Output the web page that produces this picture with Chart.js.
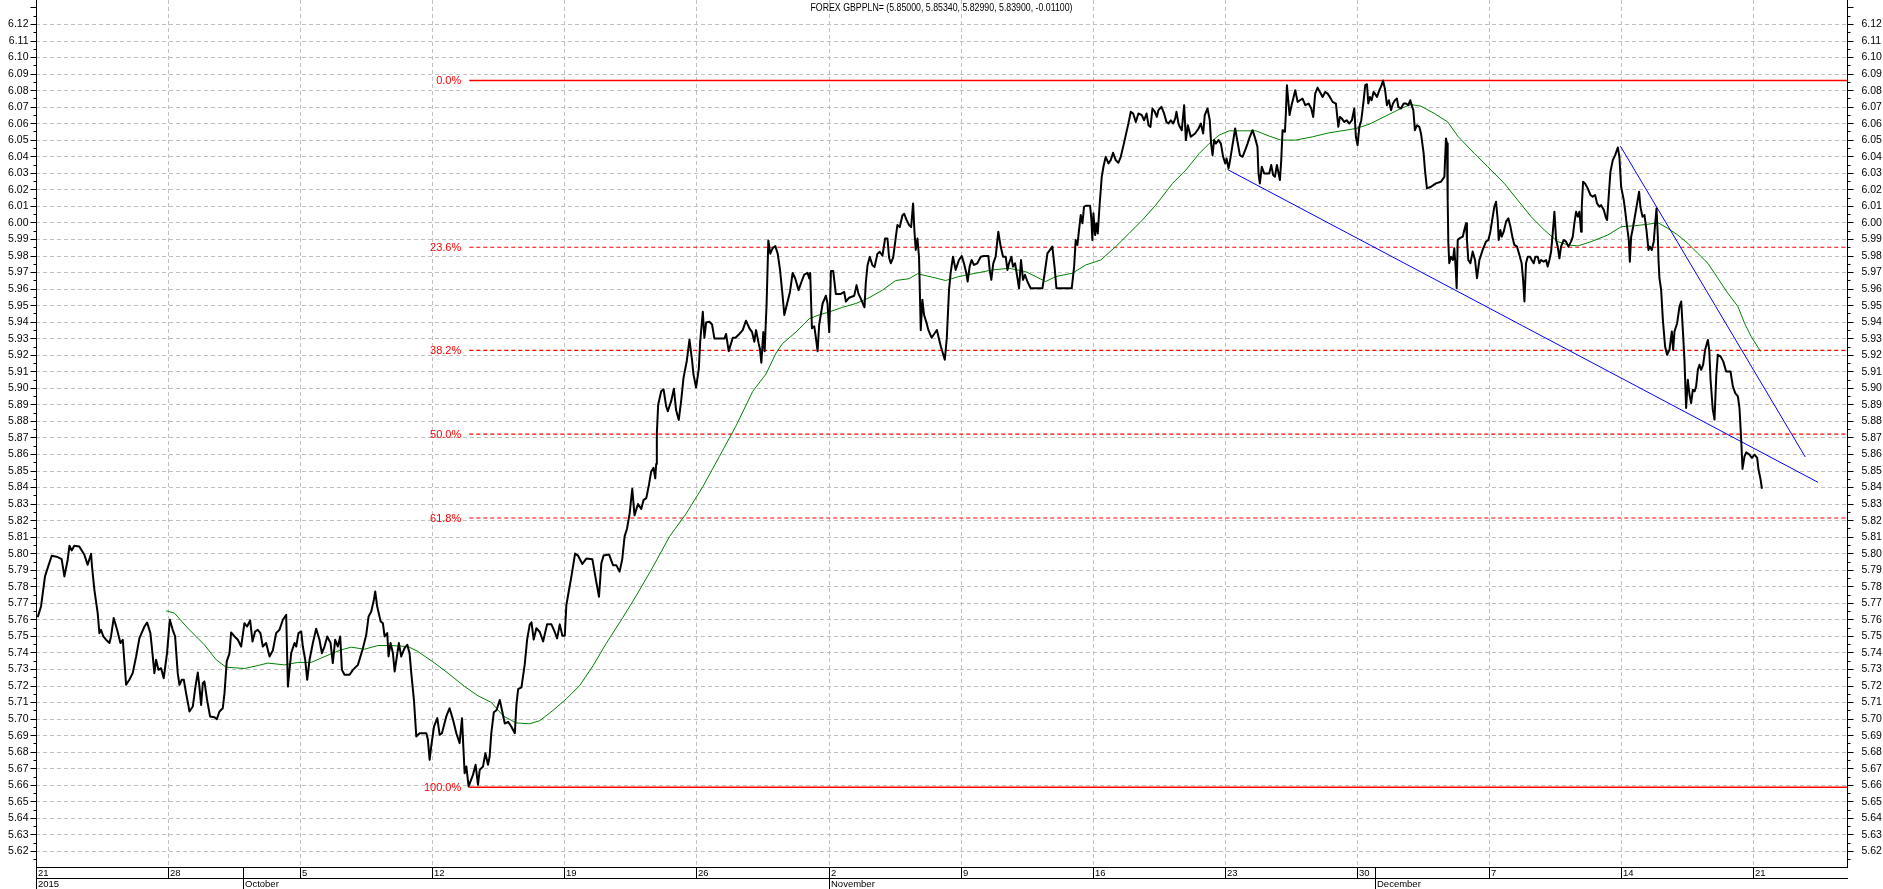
<!DOCTYPE html>
<html><head><meta charset="utf-8">
<script src="https://cdn.jsdelivr.net/npm/chart.js@4.4.1/dist/chart.umd.min.js"></script>
<style>html,body{margin:0;padding:0;background:#fff;overflow:hidden}#wrap{position:relative;width:1883px;height:889px}</style>
</head><body><div id="wrap"><canvas id="c"></canvas></div>
<script>
const titleText = "FOREX GBPPLN= (5.85000, 5.85340, 5.82990, 5.83900, -0.01100)";
const weekTickLabels = ["21","28","5","12","19","26","2","9","16","23","30","7","14","21"];
const monthLabels = ["2015","October","November","December"];
const monthStartWeeks = [0, 1.567, 6, 10.136];
const yTickLabels = ["5.62","5.63","5.64","5.65","5.66","5.67","5.68","5.69","5.70","5.71","5.72","5.73","5.74","5.75","5.76","5.77","5.78","5.79","5.80","5.81","5.82","5.83","5.84","5.85","5.86","5.87","5.88","5.89","5.90","5.91","5.92","5.93","5.94","5.95","5.96","5.97","5.98","5.99","6.00","6.01","6.02","6.03","6.04","6.05","6.06","6.07","6.08","6.09","6.10","6.11","6.12"];
const fibLabels = ["0.0%","23.6%","38.2%","50.0%","61.8%","100.0%"];
const fibValues = [6.0858, 5.9850, 5.9226, 5.8720, 5.8213, 5.6585];
const fibStartWeek = 3.28;
const trendA = [[9.020, 6.0320], [13.490, 5.8429]];
const trendB = [[11.995, 6.0461], [13.394, 5.8582]];
// price: [weeks since 21 Sep 2015, GBPPLN]
const pricePoints = [
[0.013,5.7614],[0.038,5.7678],[0.068,5.7860],[0.088,5.7910],[0.119,5.7985],[0.164,5.7977],[0.194,5.7965],[0.215,5.7860],[0.240,5.7961],[0.253,5.8045],[0.270,5.8017],[0.290,5.8045],[0.328,5.8041],[0.366,5.7991],[0.391,5.7930],[0.417,5.7997],[0.424,5.7920],[0.442,5.7779],[0.467,5.7638],[0.480,5.7517],[0.492,5.7537],[0.510,5.7497],[0.530,5.7477],[0.556,5.7457],[0.568,5.7497],[0.588,5.7608],[0.614,5.7537],[0.639,5.7457],[0.657,5.7477],[0.682,5.7205],[0.707,5.7235],[0.732,5.7275],[0.758,5.7376],[0.783,5.7487],[0.821,5.7557],[0.841,5.7581],[0.866,5.7517],[0.884,5.7376],[0.896,5.7275],[0.909,5.7356],[0.927,5.7295],[0.947,5.7305],[0.967,5.7245],[0.992,5.7396],[1.013,5.7598],[1.035,5.7537],[1.053,5.7497],[1.073,5.7275],[1.086,5.7205],[1.104,5.7235],[1.119,5.7235],[1.136,5.7154],[1.162,5.7043],[1.187,5.7073],[1.207,5.7194],[1.225,5.7279],[1.237,5.7194],[1.250,5.7083],[1.263,5.7215],[1.275,5.7225],[1.295,5.7114],[1.318,5.7013],[1.351,5.7009],[1.369,5.6997],[1.389,5.7043],[1.414,5.7063],[1.427,5.7154],[1.444,5.7346],[1.465,5.7396],[1.477,5.7521],[1.503,5.7497],[1.528,5.7477],[1.553,5.7436],[1.578,5.7577],[1.598,5.7557],[1.621,5.7594],[1.639,5.7467],[1.659,5.7527],[1.679,5.7537],[1.699,5.7517],[1.717,5.7436],[1.742,5.7457],[1.768,5.7376],[1.793,5.7412],[1.818,5.7517],[1.843,5.7537],[1.869,5.7598],[1.894,5.7628],[1.907,5.7194],[1.919,5.7295],[1.932,5.7396],[1.957,5.7457],[1.970,5.7436],[1.987,5.7517],[2.008,5.7527],[2.020,5.7436],[2.038,5.7356],[2.053,5.7235],[2.071,5.7356],[2.096,5.7457],[2.121,5.7543],[2.146,5.7477],[2.164,5.7396],[2.184,5.7436],[2.205,5.7497],[2.230,5.7457],[2.247,5.7336],[2.265,5.7477],[2.285,5.7436],[2.303,5.7497],[2.316,5.7295],[2.336,5.7265],[2.374,5.7265],[2.399,5.7295],[2.437,5.7325],[2.475,5.7426],[2.500,5.7507],[2.518,5.7618],[2.538,5.7648],[2.558,5.7719],[2.568,5.7769],[2.583,5.7678],[2.609,5.7588],[2.626,5.7577],[2.639,5.7497],[2.659,5.7517],[2.669,5.7376],[2.684,5.7457],[2.702,5.7396],[2.715,5.7285],[2.732,5.7376],[2.747,5.7457],[2.765,5.7376],[2.790,5.7426],[2.811,5.7446],[2.828,5.7396],[2.841,5.7275],[2.861,5.7114],[2.879,5.6892],[2.904,5.6912],[2.955,5.6912],[2.967,5.6872],[2.980,5.6751],[2.992,5.6832],[3.013,5.6952],[3.038,5.7003],[3.056,5.6902],[3.073,5.6912],[3.106,5.7013],[3.131,5.7063],[3.157,5.6993],[3.182,5.6912],[3.207,5.6852],[3.225,5.7003],[3.235,5.6832],[3.245,5.6670],[3.258,5.6711],[3.275,5.6590],[3.308,5.6660],[3.328,5.6721],[3.346,5.6600],[3.359,5.6690],[3.384,5.6711],[3.402,5.6791],[3.422,5.6721],[3.434,5.6771],[3.447,5.6912],
[3.466,5.7039],[3.486,5.7051],[3.511,5.7113],[3.531,5.7039],[3.549,5.6970],[3.574,5.6981],[3.599,5.6951],[3.625,5.6912],[3.637,5.7085],[3.650,5.7178],[3.675,5.7189],[3.700,5.7328],[3.718,5.7478],[3.738,5.7570],[3.751,5.7582],[3.768,5.7478],[3.788,5.7547],[3.814,5.7524],[3.839,5.7467],[3.869,5.7570],[3.902,5.7570],[3.927,5.7524],[3.945,5.7485],[3.965,5.7570],[3.985,5.7501],[4.003,5.7501],[4.015,5.7686],[4.035,5.7778],[4.053,5.7859],[4.081,5.7998],[4.103,5.7986],[4.136,5.7935],[4.166,5.7968],[4.212,5.7963],[4.237,5.7848],[4.262,5.7737],[4.280,5.7940],[4.297,5.7986],[4.338,5.7993],[4.368,5.7928],[4.393,5.7928],[4.418,5.7889],[4.438,5.7963],[4.456,5.8102],[4.474,5.8148],[4.494,5.8240],[4.514,5.8390],[4.531,5.8229],[4.557,5.8298],[4.582,5.8268],[4.599,5.8321],[4.620,5.8333],[4.640,5.8413],[4.657,5.8494],[4.675,5.8517],[4.688,5.8453],[4.695,5.8540],[4.700,5.8725],[4.710,5.8898],[4.733,5.8979],[4.751,5.8991],[4.771,5.8887],[4.783,5.8859],[4.809,5.8921],[4.829,5.8995],[4.846,5.8864],[4.866,5.8806],[4.884,5.8921],[4.902,5.9060],[4.927,5.9164],[4.947,5.9291],[4.967,5.9164],[4.977,5.9083],[4.997,5.9002],[5.018,5.9118],[5.028,5.9279],[5.048,5.9460],[5.060,5.9303],[5.073,5.9395],[5.098,5.9400],[5.118,5.9383],[5.136,5.9298],[5.174,5.9298],[5.212,5.9298],[5.224,5.9326],[5.244,5.9222],[5.275,5.9303],[5.295,5.9303],[5.325,5.9326],[5.350,5.9349],[5.375,5.9406],[5.401,5.9360],[5.421,5.9337],[5.438,5.9279],[5.451,5.9349],[5.471,5.9268],[5.481,5.9233],[5.491,5.9152],[5.506,5.9337],[5.516,5.9222],[5.531,5.9510],[5.544,5.9891],[5.559,5.9811],[5.577,5.9845],[5.597,5.9857],[5.615,5.9811],[5.632,5.9718],[5.652,5.9557],[5.665,5.9441],[5.690,5.9522],[5.708,5.9580],[5.728,5.9695],[5.748,5.9661],[5.773,5.9591],[5.793,5.9637],[5.816,5.9684],[5.841,5.9695],[5.854,5.9661],[5.861,5.9695],[5.874,5.9360],[5.892,5.9372],[5.904,5.9303],[5.917,5.9222],[5.929,5.9383],[5.955,5.9510],[5.980,5.9557],[5.992,5.9510],[6.005,5.9337],[6.018,5.9707],[6.035,5.9707],[6.055,5.9568],[6.093,5.9568],[6.118,5.9580],[6.131,5.9522],[6.156,5.9545],[6.194,5.9557],[6.212,5.9621],[6.227,5.9568],[6.247,5.9533],[6.272,5.9487],[6.282,5.9637],[6.295,5.9741],[6.312,5.9792],[6.332,5.9741],[6.348,5.9730],[6.370,5.9811],[6.388,5.9822],[6.408,5.9799],[6.428,5.9903],[6.446,5.9903],[6.458,5.9788],[6.471,5.9753],[6.489,5.9788],[6.504,5.9880],[6.521,5.9984],[6.539,5.9972],[6.559,6.0042],[6.572,6.0053],[6.589,6.0018],[6.610,5.9984],[6.625,5.9972],[6.640,6.0115],[6.650,5.9949],[6.660,5.9834],[6.673,5.9903],[6.685,5.9788],[6.698,5.9349],[6.710,5.9533],[6.723,5.9441],[6.741,5.9395],[6.756,5.9349],
[6.780,5.9303],[6.820,5.9350],[6.850,5.9250],[6.880,5.9170],[6.895,5.9300],
[6.912,5.9592],[6.924,5.9693],[6.942,5.9793],[6.962,5.9713],[6.987,5.9773],[7.008,5.9797],[7.025,5.9753],[7.043,5.9693],[7.053,5.9643],[7.068,5.9733],[7.083,5.9773],[7.101,5.9743],[7.126,5.9753],[7.152,5.9793],[7.177,5.9797],[7.210,5.9797],[7.220,5.9713],[7.232,5.9653],[7.247,5.9753],[7.265,5.9793],[7.285,5.9944],[7.303,5.9854],[7.321,5.9793],[7.341,5.9793],[7.354,5.9713],[7.366,5.9753],[7.384,5.9793],[7.396,5.9733],[7.412,5.9753],[7.424,5.9693],[7.442,5.9602],[7.457,5.9773],[7.472,5.9653],[7.487,5.9683],[7.505,5.9643],[7.530,5.9602],[7.568,5.9602],[7.619,5.9602],[7.636,5.9693],[7.657,5.9813],[7.677,5.9834],[7.694,5.9854],[7.712,5.9723],[7.725,5.9602],[7.770,5.9602],[7.841,5.9602],[7.859,5.9733],[7.871,5.9894],[7.884,5.9864],[7.896,5.9954],[7.909,6.0045],[7.922,5.9995],[7.934,6.0095],[7.947,6.0101],[7.980,6.0101],[7.990,6.0015],[7.997,5.9894],[8.005,6.0055],[8.018,5.9924],[8.028,5.9995],[8.038,5.9934],[8.051,6.0095],[8.068,6.0276],[8.081,6.0337],[8.098,6.0397],[8.119,6.0357],[8.136,6.0377],[8.154,6.0421],[8.174,6.0377],[8.194,6.0361],[8.212,6.0397],[8.230,6.0457],[8.250,6.0528],[8.270,6.0598],[8.288,6.0669],[8.306,6.0659],[8.326,6.0608],[8.346,6.0659],[8.371,6.0649],[8.389,6.0618],[8.407,6.0659],[8.422,6.0588],[8.437,6.0578],[8.452,6.0689],[8.470,6.0669],[8.485,6.0638],[8.497,6.0679],[8.520,6.0699],[8.540,6.0659],[8.558,6.0608],[8.573,6.0598],[8.591,6.0618],[8.609,6.0598],[8.624,6.0628],[8.634,6.0669],[8.649,6.0598],[8.659,6.0578],[8.674,6.0558],[8.692,6.0709],[8.705,6.0498],[8.720,6.0588],[8.742,6.0518],[8.775,6.0538],[8.801,6.0568],[8.818,6.0598],[8.836,6.0538],[8.848,6.0649],[8.869,6.0689],[8.886,6.0618],[8.896,6.0477],[8.907,6.0407],[8.919,6.0498],[8.932,6.0477],[8.952,6.0498],[8.970,6.0477],[8.987,6.0397],[9.003,6.0357],[9.013,6.0387],[9.028,6.0327],[9.040,6.0377],[9.058,6.0467],[9.078,6.0568],[9.096,6.0488],[9.114,6.0407],[9.134,6.0397],[9.154,6.0437],[9.172,6.0477],[9.189,6.0518],[9.210,6.0558],[9.230,6.0508],[9.247,6.0457],[9.255,6.0296],[9.265,6.0236],[9.280,6.0337],[9.298,6.0296],[9.316,6.0296],[9.336,6.0296],[9.351,6.0347],[9.366,6.0286],[9.379,6.0276],[9.394,6.0347],[9.407,6.0296],[9.417,6.0256],[9.427,6.0377],[9.437,6.0558],[9.455,6.0548],[9.462,6.0659],[9.470,6.0830],[9.480,6.0739],[9.490,6.0649],[9.505,6.0709],[9.518,6.0749],[9.533,6.0799],[9.551,6.0729],[9.568,6.0739],[9.588,6.0749],[9.609,6.0709],[9.634,6.0719],[9.654,6.0689],[9.669,6.0638],[9.684,6.0779],[9.702,6.0815],[9.720,6.0789],[9.740,6.0759],[9.760,6.0789],[9.778,6.0779],[9.795,6.0759],[9.816,6.0729],[9.841,6.0719],[9.859,6.0578],[9.871,6.0638],[9.886,6.0628],[9.904,6.0608],[9.922,6.0618],[9.942,6.0598],[9.962,6.0618],[9.980,6.0689],[9.992,6.0518],[10.005,6.0467],[10.018,6.0578],[10.033,6.0618],[10.048,6.0719],[10.063,6.0830],
[10.076,6.0836],[10.086,6.0719],[10.098,6.0759],[10.111,6.0739],[10.126,6.0789],[10.136,6.0779],[10.152,6.0759],[10.169,6.0799],[10.187,6.0830],[10.197,6.0858],[10.212,6.0809],[10.227,6.0709],[10.242,6.0739],[10.258,6.0679],[10.273,6.0719],[10.288,6.0739],[10.303,6.0749],[10.313,6.0699],[10.333,6.0689],[10.354,6.0719],[10.371,6.0719],[10.389,6.0709],[10.404,6.0739],[10.414,6.0709],[10.427,6.0679],[10.439,6.0558],[10.455,6.0588],[10.472,6.0578],[10.485,6.0538],[10.505,6.0417],[10.515,6.0317],[10.530,6.0206],[10.561,6.0216],[10.598,6.0236],[10.636,6.0246],[10.662,6.0276],[10.674,6.0508],[10.682,6.0477],[10.687,6.0135],[10.692,5.9874],[10.699,5.9753],[10.712,5.9793],[10.727,5.9773],[10.737,5.9844],[10.747,5.9733],[10.755,5.9602],[10.763,5.9894],[10.775,5.9904],[10.801,5.9914],[10.813,5.9954],[10.826,5.9995],[10.833,5.9894],[10.843,5.9773],[10.859,5.9753],[10.876,5.9824],[10.894,5.9773],[10.909,5.9663],[10.927,5.9773],[10.952,5.9834],[10.977,5.9884],[10.995,5.9894],[11.010,5.9944],[11.028,6.0035],[11.040,6.0095],[11.053,6.0125],[11.066,6.0015],[11.073,5.9894],[11.086,5.9954],[11.096,5.9914],[11.111,5.9944],[11.129,6.0005],[11.146,6.0025],[11.162,5.9975],[11.179,5.9904],[11.192,5.9864],[11.212,5.9854],[11.230,5.9803],[11.247,5.9753],[11.258,5.9653],[11.268,5.9522],[11.280,5.9753],[11.293,5.9793],[11.311,5.9793],[11.323,5.9773],[11.338,5.9753],[11.351,5.9793],[11.369,5.9793],[11.381,5.9753],[11.394,5.9773],[11.414,5.9763],[11.432,5.9773],[11.444,5.9733],[11.457,5.9773],[11.470,5.9824],[11.482,5.9934],[11.495,6.0065],[11.508,5.9894],[11.520,5.9854],[11.533,5.9783],[11.545,5.9854],[11.566,5.9894],[11.583,5.9884],[11.601,5.9854],[11.621,5.9884],[11.634,5.9914],[11.646,5.9995],[11.659,6.0065],[11.672,6.0035],[11.684,6.0065],[11.697,5.9944],[11.702,6.0095],[11.712,6.0246],[11.727,6.0236],[11.747,6.0206],[11.768,6.0166],[11.785,6.0156],[11.803,6.0166],[11.818,6.0115],[11.836,6.0095],[11.848,6.0105],[11.869,6.0075],[11.886,6.0025],[11.894,6.0015],[11.904,6.0135],[11.919,6.0306],[11.937,6.0377],[11.955,6.0407],[11.975,6.0453],[11.987,6.0397],[12.000,6.0216],[12.020,6.0135],[12.030,6.0075],[12.045,5.9974],[12.058,5.9894],[12.066,5.9763],[12.076,5.9914],[12.091,5.9974],[12.106,6.0045],[12.121,6.0115],[12.136,6.0186],[12.146,6.0095],[12.162,6.0035],[12.177,6.0045],[12.192,5.9954],[12.207,5.9834],[12.217,5.9854],[12.232,5.9834],[12.247,5.9884],[12.258,5.9995],[12.268,6.0085],[12.278,5.9914],[12.283,5.9773],[12.290,5.9663],[12.303,5.9592],[12.316,5.9411],[12.333,5.9250],[12.348,5.9200],[12.366,5.9230],[12.384,5.9341],[12.394,5.9230],[12.404,5.9341],[12.424,5.9391],[12.442,5.9492],[12.455,5.9522],[12.470,5.9311],[12.480,5.9160],[12.492,5.8878],[12.505,5.9049],[12.518,5.8958],[12.530,5.8908],[12.543,5.8989],[12.556,5.8979],[12.568,5.9009],[12.581,5.9109],[12.593,5.9140],[12.606,5.9109],[12.621,5.9140],[12.636,5.9230],[12.657,5.9290],[12.667,5.9230],[12.677,5.9049],[12.694,5.8868],[12.707,5.8808],[12.720,5.9069],[12.732,5.9200],[12.753,5.9190],[12.773,5.9160],[12.795,5.9099],[12.828,5.9099],[12.846,5.9009],[12.864,5.8968],[12.884,5.8948],[12.896,5.8878],[12.909,5.8687],[12.919,5.8510],[12.934,5.8586],[12.947,5.8610],[12.972,5.8596],[12.990,5.8576],[13.010,5.8596],[13.030,5.8576],[13.040,5.8506],[13.056,5.8445],[13.066,5.8390]
];
// moving average (green)
const maPoints = [
[0.985,5.7652],[1.048,5.7638],[1.149,5.7547],[1.275,5.7446],[1.364,5.7356],[1.439,5.7311],[1.578,5.7303],[1.679,5.7321],[1.755,5.7336],[1.881,5.7325],[1.982,5.7340],[2.083,5.7340],[2.159,5.7366],[2.235,5.7392],[2.311,5.7416],[2.386,5.7432],[2.487,5.7420],[2.588,5.7442],[2.689,5.7442],[2.816,5.7436],[2.891,5.7406],[3.018,5.7336],[3.119,5.7275],[3.245,5.7194],[3.346,5.7138],[3.447,5.7098],[3.537,5.7016],[3.637,5.6974],[3.738,5.6969],[3.814,5.6988],[3.914,5.7050],[4.015,5.7120],[4.116,5.7200],[4.217,5.7320],[4.317,5.7455],[4.443,5.7612],[4.544,5.7743],[4.670,5.7917],[4.796,5.8101],[4.922,5.8240],[5.048,5.8402],[5.174,5.8586],[5.300,5.8771],[5.426,5.8979],[5.526,5.9083],[5.602,5.9210],[5.652,5.9268],[5.753,5.9337],[5.854,5.9418],[5.929,5.9441],[6.005,5.9459],[6.106,5.9487],[6.207,5.9510],[6.307,5.9545],[6.408,5.9591],[6.509,5.9649],[6.610,5.9660],[6.673,5.9690],[6.785,5.9669],[6.886,5.9649],[6.987,5.9673],[7.114,5.9693],[7.240,5.9713],[7.366,5.9723],[7.492,5.9703],[7.568,5.9673],[7.644,5.9643],[7.720,5.9673],[7.846,5.9693],[7.947,5.9743],[8.061,5.9773],[8.174,5.9854],[8.275,5.9934],[8.376,6.0015],[8.477,6.0105],[8.604,6.0236],[8.705,6.0317],[8.806,6.0417],[8.881,6.0477],[8.957,6.0528],[9.033,6.0554],[9.134,6.0554],[9.235,6.0554],[9.336,6.0522],[9.424,6.0498],[9.538,6.0498],[9.664,6.0518],[9.790,6.0542],[9.917,6.0558],[9.992,6.0568],[10.093,6.0594],[10.258,6.0659],[10.333,6.0689],[10.409,6.0713],[10.485,6.0703],[10.586,6.0659],[10.687,6.0608],[10.763,6.0522],[10.889,6.0417],[10.990,6.0337],[11.116,6.0236],[11.217,6.0135],[11.318,6.0035],[11.419,5.9954],[11.520,5.9884],[11.596,5.9864],[11.672,5.9858],[11.773,5.9884],[11.899,5.9924],[12.000,5.9974],[12.101,5.9980],[12.202,5.9989],[12.278,5.9999],[12.354,5.9964],[12.429,5.9924],[12.505,5.9874],[12.581,5.9813],[12.657,5.9753],[12.732,5.9663],[12.808,5.9572],[12.884,5.9492],[12.934,5.9391],[12.985,5.9310],[13.056,5.9220]
];

const X_MIN = 0, X_MAX = 13.71, Y_MIN = 5.6103, Y_MAX = 6.1345;
const toXY = arr => arr.map(p => ({x: p[0], y: p[1]}));

const datasets = [
  {data: toXY(pricePoints), borderColor: '#000000', borderWidth: 2, borderJoinStyle: 'round'},
  {data: toXY(trendA), borderColor: '#0000ff', borderWidth: 1},
  {data: toXY(trendB), borderColor: '#0000ff', borderWidth: 1},
  {data: toXY(maPoints), borderColor: '#008000', borderWidth: 1}
];
fibValues.forEach((v, i) => {
  const solid = (i === 0 || i === fibValues.length - 1);
  datasets.push({data: [{x: fibStartWeek, y: v}, {x: X_MAX, y: v}], borderColor: '#ff0000',
    borderWidth: solid ? 1.5 : 1.2, borderDash: solid ? [] : [4, 3]});
});

const decor = {
  id: 'decor',
  beforeDatasetsDraw(chart) {
    const {ctx, chartArea: a, scales: {x, y}} = chart;
    ctx.save();
    ctx.strokeStyle = '#c0c0c0'; ctx.lineWidth = 1; ctx.setLineDash([4, 3]);
    ctx.beginPath();
    yTickLabels.forEach(t => { const py = Math.round(y.getPixelForValue(parseFloat(t))) + 0.5; ctx.moveTo(a.left, py); ctx.lineTo(a.right, py); });
    weekTickLabels.forEach((t, i) => { if (i === 0) return; const px = Math.round(x.getPixelForValue(i)) + 0.5; ctx.moveTo(px, a.top); ctx.lineTo(px, a.bottom); });
    ctx.stroke();
    ctx.restore();
  },
  afterDatasetsDraw(chart) {
    const {ctx, chartArea: a, scales: {x, y}} = chart;
    ctx.save();
    // fib labels
    ctx.fillStyle = '#ff0000'; ctx.font = '11px "Liberation Sans", Arial, sans-serif';
    ctx.textAlign = 'right'; ctx.textBaseline = 'middle';
    const fx = x.getPixelForValue(fibStartWeek) - 8;
    fibLabels.forEach((l, i) => ctx.fillText(l, fx, y.getPixelForValue(fibValues[i]) + 0.5));
    // axes
    ctx.strokeStyle = '#000'; ctx.lineWidth = 1; ctx.setLineDash([]);
    const L = Math.round(a.left) + 0.5, R = Math.round(a.right) + 0.5, B = Math.round(a.bottom) + 0.5;
    ctx.beginPath();
    ctx.moveTo(L, 0); ctx.lineTo(L, B);
    ctx.moveTo(R, 0); ctx.lineTo(R, B);
    ctx.moveTo(L - 0.5, B); ctx.lineTo(R + 0.5, B);
    ctx.moveTo(L - 0.5, B + 11); ctx.lineTo(R + 0.5, B + 11);
    // y ticks
    for (let k = -1; k <= 103; k++) {
      const v = 5.615 + k * 0.005;
      const py = Math.round(y.getPixelForValue(v)) + 0.5;
      if (py < 2 || py > a.bottom - 2) continue;
      const major = (k % 2 === 1);
      const len = major ? 6 : 3;
      ctx.moveTo(L - len, py); ctx.lineTo(L, py);
      ctx.moveTo(R, py); ctx.lineTo(R + len, py);
    }
    // week separators (row 1)
    weekTickLabels.forEach((t, i) => { const px = Math.round(x.getPixelForValue(i)) + 0.5; ctx.moveTo(px, B); ctx.lineTo(px, B + 11); });
    monthStartWeeks.forEach(w => { const px = Math.round(x.getPixelForValue(w)) + 0.5; ctx.moveTo(px, B); ctx.lineTo(px, 889); });
    ctx.stroke();
    // y labels
    ctx.fillStyle = '#000'; ctx.font = '10.5px "Liberation Sans", Arial, sans-serif'; ctx.textBaseline = 'middle';
    yTickLabels.forEach(t => {
      const py = y.getPixelForValue(parseFloat(t)) + 0.5;
      ctx.textAlign = 'right'; ctx.fillText(t, L - 8, py);
      ctx.textAlign = 'left'; ctx.fillText(t, R + 14, py);
    });
    // date rows
    ctx.font = '9.5px "Liberation Sans", Arial, sans-serif'; ctx.textAlign = 'left';
    weekTickLabels.forEach((t, i) => ctx.fillText(t, Math.round(x.getPixelForValue(i)) + 2, B + 6));
    monthLabels.forEach((t, i) => ctx.fillText(t, Math.round(x.getPixelForValue(monthStartWeeks[i])) + 2, B + 17));
    // title
    ctx.font = '11px "Liberation Sans", Arial, sans-serif';
    const tw = ctx.measureText(titleText).width;
    ctx.translate(941.5, 8);
    ctx.scale(262 / tw, 1);
    ctx.textAlign = 'center';
    ctx.fillText(titleText, 0, 0);
    ctx.restore();
  }
};

new Chart(document.getElementById('c'), {
  type: 'line',
  data: {datasets},
  options: {
    responsive: true, maintainAspectRatio: false, animation: false,
    layout: {padding: {left: 36, right: 36, top: 0, bottom: 22}},
    elements: {point: {radius: 0, hoverRadius: 0}, line: {tension: 0, fill: false}},
    plugins: {legend: {display: false}, tooltip: {enabled: false}, title: {display: false}},
    events: [],
    scales: {
      x: {type: 'linear', display: false, min: X_MIN, max: X_MAX},
      y: {type: 'linear', display: false, min: Y_MIN, max: Y_MAX}
    }
  },
  plugins: [decor]
});
</script></body></html>
